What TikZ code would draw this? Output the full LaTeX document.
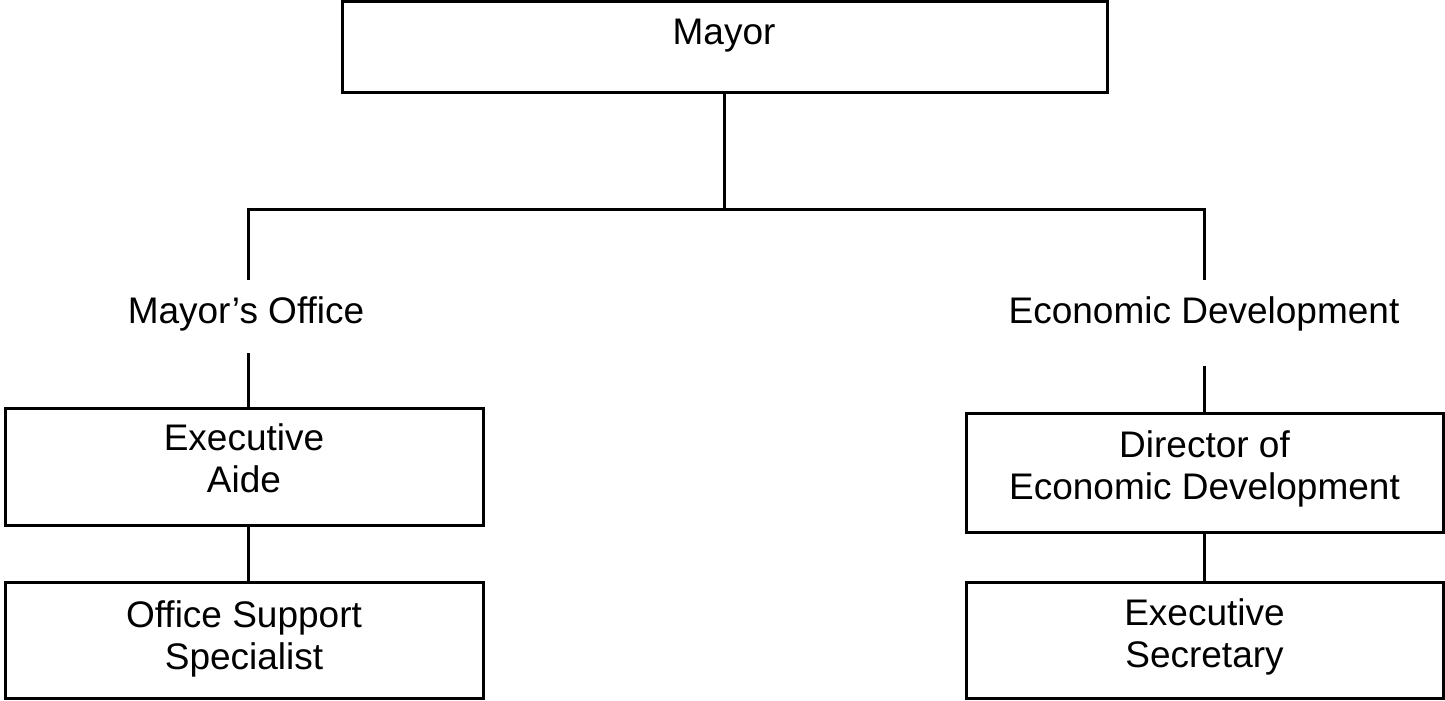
\documentclass[tikz,border=0pt]{standalone}
\usepackage{fontspec}
\setmainfont{Liberation Sans}
\newcommand{\twolines}[2]{\begin{tabular}[t]{@{}c@{}}#1\\#2\end{tabular}}
\begin{document}
\begin{tikzpicture}[x=0.5pt,y=-0.5pt,
  box/.style={draw, line width=1.5pt, inner sep=0pt, outer sep=0pt},
  lbl/.style={inner sep=0pt, outer sep=0pt, anchor=base,
              font=\fontsize{18.5pt}{21.3pt}\selectfont},
  conn/.style={draw, line width=1.5pt}]
  % canvas
  \fill[white] (0,0) rectangle (1445,701);
  \useasboundingbox (0,0) rectangle (1445,701);

  % boxes
  \node[box, minimum width=382.5pt, minimum height=45.5pt] (mayor) at (724.5,47.5) {};
  \node[box, minimum width=239pt, minimum height=58.5pt] (aide) at (244,466.5) {};
  \node[box, minimum width=239pt, minimum height=58pt] (oss) at (244,640) {};
  \node[box, minimum width=238.5pt, minimum height=59.5pt] (dir) at (1204.5,472.5) {};
  \node[box, minimum width=238.5pt, minimum height=58pt] (sec) at (1204.5,640) {};

  % texts
  \node[lbl] (mayorT) at (724,45) {Mayor};
  \node[lbl] (moff) at (246,323) {Mayor’s Office};
  \node[lbl] (econ) at (1204,323) {Economic Development};
  \node[lbl] (aideT) at (244,450) {\twolines{Executive}{Aide}};
  \node[lbl] (ossT) at (244,627) {\twolines{Office Support}{Specialist}};
  \node[lbl] (dirT) at (1204.5,457) {\twolines{Director of}{Economic Development}};
  \node[lbl] (secT) at (1204.5,625) {\twolines{Executive}{Secretary}};

  % connector end points
  \coordinate (lx) at (248,209);
  \coordinate (rx) at (1204,209);
  \coordinate (lTop) at (248,280);
  \coordinate (lBot) at (248,353);
  \coordinate (rTop) at (1204,280);
  \coordinate (rBot) at (1204,366);

  % connectors
  \draw[conn] (mayor.south) -- (mayor.south |- lx);
  \draw[conn] (lTop) -- (lx) -- (rx) -- (rTop);
  \draw[conn] (lBot) -- (aide.north -| lBot);
  \draw[conn] (aide.south -| lBot) -- (oss.north -| lBot);
  \draw[conn] (rBot) -- (dir.north -| rBot);
  \draw[conn] (dir.south -| rBot) -- (sec.north -| rBot);
\end{tikzpicture}
\end{document}
